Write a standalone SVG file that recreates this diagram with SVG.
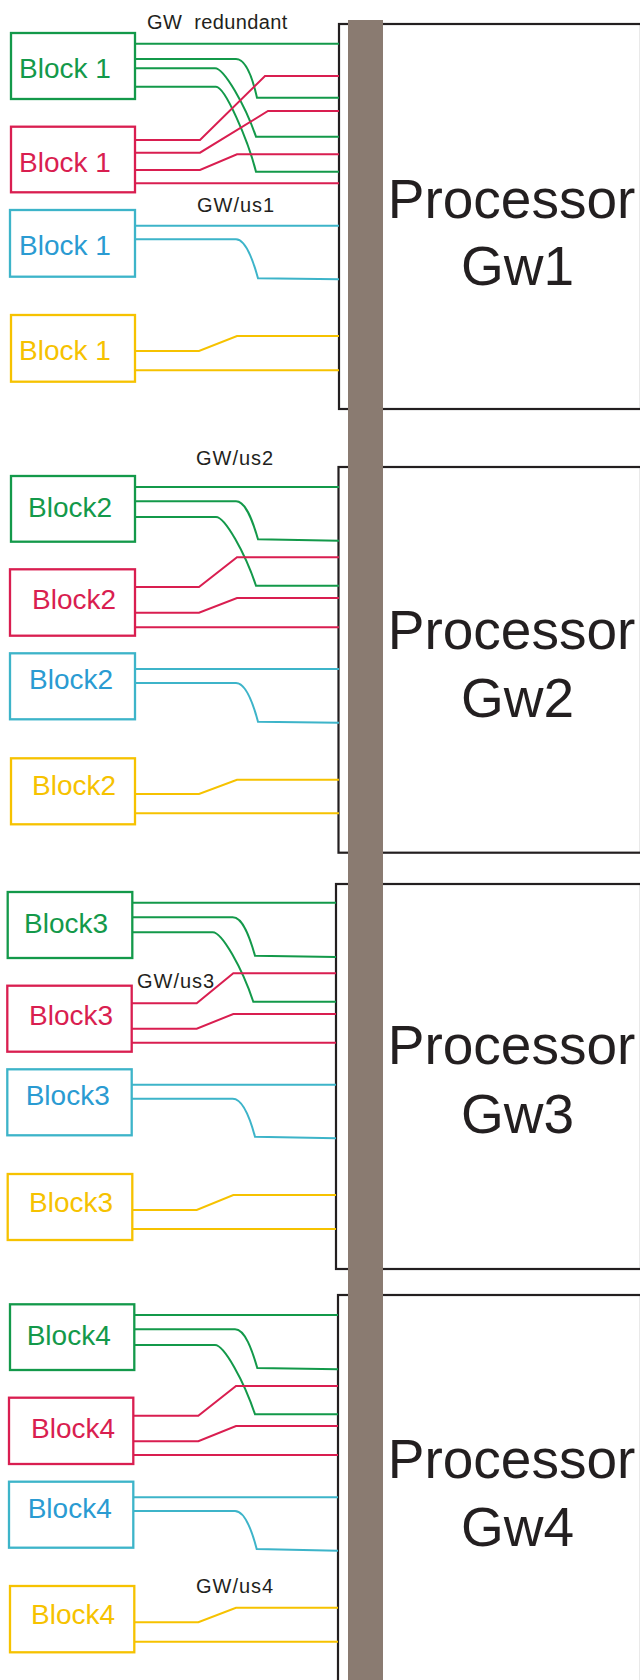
<svg xmlns="http://www.w3.org/2000/svg" width="640" height="1680" viewBox="0 0 640 1680">
<style>
.g{stroke:#13994a}.r{stroke:#d91e50}.c{stroke:#3db4c9}.y{stroke:#f6c200}
.box{fill:#fff;stroke-width:2.3}
.ln path{fill:none;stroke-width:2}
.bt{font-family:"Liberation Sans",Arial,sans-serif;font-size:28px}
.tg{fill:#13994a}.tr{fill:#d91e50}.tc{fill:#2a9bd2}.ty{fill:#f6c200}
.proc{fill:#fff;stroke:#231f20;stroke-width:2.2}
.pt{font-family:"Liberation Sans",Arial,sans-serif;font-size:55px;fill:#231f20;text-anchor:middle}
.lab{font-family:"Liberation Sans",Arial,sans-serif;font-size:20px;letter-spacing:1px;fill:#231f20}
.lab.tight{letter-spacing:0.4px}
</style>
<g id="processors">
<g id="gw1"><rect class="proc" x="339" y="24" width="302" height="385"/><text class="pt" x="511.5" y="218">Processor</text><text class="pt" x="517.5" y="285">Gw1</text></g>
<g id="gw2"><rect class="proc" x="338.5" y="467" width="302.5" height="385.7"/><text class="pt" x="511.5" y="649">Processor</text><text class="pt" x="517.5" y="716.7">Gw2</text></g>
<g id="gw3"><rect class="proc" x="336" y="884" width="305" height="385"/><text class="pt" x="511.5" y="1064">Processor</text><text class="pt" x="517.5" y="1133">Gw3</text></g>
<g id="gw4"><rect class="proc" x="338" y="1295" width="303" height="400"/><text class="pt" x="511.5" y="1478.3">Processor</text><text class="pt" x="517.5" y="1546">Gw4</text></g>
</g>
<g id="bus"><rect x="348" y="20" width="35" height="1660" fill="#8a7b71"/></g>
<g id="blocks">
<g id="g1"><rect class="box g" x="11" y="33" width="124" height="66"/><text class="bt tg" x="19" y="78">Block 1</text></g>
<g id="r1"><rect class="box r" x="11" y="126.7" width="124" height="65.6"/><text class="bt tr" x="19" y="171.7">Block 1</text></g>
<g id="c1"><rect class="box c" x="10" y="210" width="125" height="66.7"/><text class="bt tc" x="19" y="255">Block 1</text></g>
<g id="y1"><rect class="box y" x="11" y="315" width="124" height="66.7"/><text class="bt ty" x="19" y="360">Block 1</text></g>
<g id="g2"><rect class="box g" x="11" y="476" width="124" height="65.7"/><text class="bt tg" x="28" y="516.7">Block2</text></g>
<g id="r2"><rect class="box r" x="10" y="569.3" width="125" height="66.4"/><text class="bt tr" x="32" y="609.3">Block2</text></g>
<g id="c2"><rect class="box c" x="10" y="653.3" width="125" height="66"/><text class="bt tc" x="29" y="689.3">Block2</text></g>
<g id="y2"><rect class="box y" x="11" y="758.3" width="124" height="66"/><text class="bt ty" x="32" y="795">Block2</text></g>
<g id="g3"><rect class="box g" x="7.7" y="892" width="124.6" height="66"/><text class="bt tg" x="24" y="932.7">Block3</text></g>
<g id="r3"><rect class="box r" x="7.3" y="985.7" width="124.4" height="66"/><text class="bt tr" x="29" y="1025">Block3</text></g>
<g id="c3"><rect class="box c" x="7.3" y="1069.3" width="124.4" height="66"/><text class="bt tc" x="25.7" y="1105">Block3</text></g>
<g id="y3"><rect class="box y" x="7.7" y="1174" width="124.6" height="66"/><text class="bt ty" x="29" y="1211.7">Block3</text></g>
<g id="g4"><rect class="box g" x="10" y="1304.3" width="124.3" height="65.7"/><text class="bt tg" x="26.7" y="1345">Block4</text></g>
<g id="r4"><rect class="box r" x="9" y="1397.7" width="124.3" height="66.3"/><text class="bt tr" x="31" y="1437.7">Block4</text></g>
<g id="c4"><rect class="box c" x="9" y="1481.7" width="124.3" height="66"/><text class="bt tc" x="27.7" y="1517.7">Block4</text></g>
<g id="y4"><rect class="box y" x="10" y="1586" width="124.3" height="66.3"/><text class="bt ty" x="31" y="1624">Block4</text></g>
</g>
<g id="connectors" class="ln">
<path class="g" d="M135,43.7H339"/>
<path class="g" d="M135,59H236C246,59 253,80 257,97.7H339"/>
<path class="g" d="M135,68.3H215C224,68.3 245,105 256,136.7H339"/>
<path class="g" d="M135,86.7H216C225,86.7 248,140 256,171.7H339"/>
<path class="r" d="M135,140H200L265,76H339"/>
<path class="r" d="M135,152.7H200L268,111H339"/>
<path class="r" d="M135,170H200L237,154.3H339"/>
<path class="r" d="M135,183.3H339"/>
<path class="c" d="M135,225.7H339"/>
<path class="c" d="M135,239.3H236C246,239.3 253,260 258,278.3L339,279.3"/>
<path class="y" d="M135,351H199L237,336H339"/>
<path class="y" d="M135,370.3H339"/>

<path class="g" d="M135,487H339"/>
<path class="g" d="M135,501.3H236C246,501.3 253,522 258,539.3L339,540.7"/>
<path class="g" d="M135,517H216C225,517 245,553 256,585.7H339"/>
<path class="r" d="M135,587H199L237,557.3H339"/>
<path class="r" d="M135,612.7H199L237,598H339"/>
<path class="r" d="M135,627.3H339"/>
<path class="c" d="M135,669H339"/>
<path class="c" d="M135,683H236C246,683 253,703 258,721.7L339,722.7"/>
<path class="y" d="M135,794H199L237,779.7H339"/>
<path class="y" d="M135,813.3H339"/>

<path class="g" d="M132.3,902.7H336"/>
<path class="g" d="M132.3,917.3H232.7C243,917.3 250,938 255,955.7L336,957"/>
<path class="g" d="M132.3,932.3H212.7C222,932.3 242,968 253.3,1001.7H336"/>
<path class="r" d="M131.7,1003.3H196.7L233.3,973.3H336"/>
<path class="r" d="M131.7,1028.7H196.7L233.3,1014H336"/>
<path class="r" d="M131.7,1042.7H336"/>
<path class="c" d="M131.7,1084.7H336"/>
<path class="c" d="M131.7,1098.7H232.7C243,1098.7 250,1118 255,1136.7L336,1138.3"/>
<path class="y" d="M132.3,1210H196.7L233.3,1195H336"/>
<path class="y" d="M132.3,1229H336"/>

<path class="g" d="M134.3,1315H338"/>
<path class="g" d="M134.3,1329.3H235C245,1329.3 252,1350 257.3,1368L338,1369.3"/>
<path class="g" d="M134.3,1345H215C224,1345 244,1381 255,1414.3H338"/>
<path class="r" d="M133.3,1415.7H198.3L236,1386H338"/>
<path class="r" d="M133.3,1441.3H198.3L236,1426H338"/>
<path class="r" d="M133.3,1455H338"/>
<path class="c" d="M133.3,1497.3H338"/>
<path class="c" d="M133.3,1511H235C245,1511 252,1531 256.7,1549L338,1550.7"/>
<path class="y" d="M134.3,1622.3H198.3L236,1607.7H338"/>
<path class="y" d="M134.3,1641.7H338"/>
</g>
<g id="labels">
<text class="lab tight" x="147" y="29.3" xml:space="preserve">GW  redundant</text>
<text class="lab" x="197" y="211.5">GW/us1</text>
<text class="lab" x="196" y="465">GW/us2</text>
<text class="lab" x="137" y="988.3">GW/us3</text>
<text class="lab" x="196" y="1592.7">GW/us4</text>
</g>
</svg>
